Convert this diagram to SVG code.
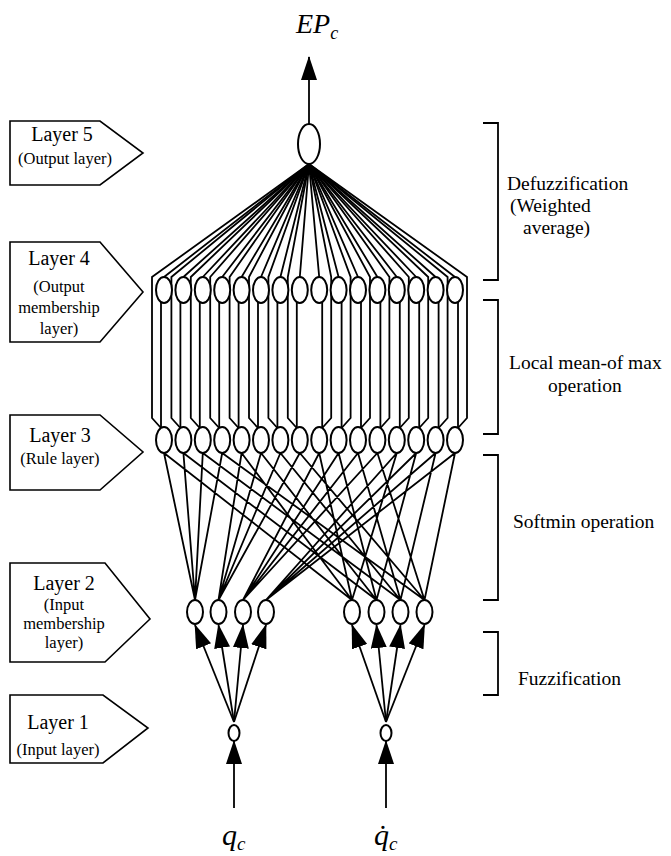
<svg xmlns="http://www.w3.org/2000/svg" width="671" height="856" viewBox="0 0 671 856">
<style>
.n{fill:#fff;stroke:#000;stroke-width:2}
.c{fill:none;stroke:#000;stroke-width:1.8;stroke-linejoin:miter}
.box{fill:#fff;stroke:#000;stroke-width:1.6}
.br{fill:none;stroke:#000;stroke-width:1.8}
text{font-family:"Liberation Serif","Times New Roman",serif;fill:#000}
.t1{font-size:20px;text-anchor:middle}
.t2{font-size:16.5px;text-anchor:middle}
.tr{font-size:19.5px}
.m{font-style:italic}
</style>
<defs>
<marker id="ah" viewBox="0 0 24 16" markerWidth="24" markerHeight="16" markerUnits="userSpaceOnUse" refX="23" refY="8" orient="auto">
<path d="M0,0 L24,8 L0,16 z" fill="#000"/>
</marker>
</defs>

<g id="connectors">
<!-- layer5 to layer4 node tops -->
<path class="c" d="M309,164 L164,277 M309,164 L183.4,277 M309,164 L202.8,277 M309,164 L222.2,277 M309,164 L241.6,277 M309,164 L261,277 M309,164 L280.4,277 M309,164 L299.8,277 M309,164 L319.2,277 M309,164 L338.6,277 M309,164 L358,277 M309,164 L377.4,277 M309,164 L396.8,277 M309,164 L416.2,277 M309,164 L435.6,277 M309,164 L455,277"/>
<!-- bypass lines layer5 to layer3 -->
<path class="c" d="M309,164 L152,277 L152,418 L161,428 M309,164 L171.4,277 L171.4,418 L180.4,428 M309,164 L190.8,277 L190.8,418 L199.8,428 M309,164 L210.2,277 L210.2,418 L219.2,428 M309,164 L229.6,277 L229.6,418 L238.6,428 M309,164 L249,277 L249,418 L258,428 M309,164 L268.4,277 L268.4,418 L277.4,428 M309,164 L287.8,277 L287.8,418 L296.8,428 M309,164 L331.2,277 L331.2,418 L322.2,428 M309,164 L350.6,277 L350.6,418 L341.6,428 M309,164 L370,277 L370,418 L361,428 M309,164 L389.4,277 L389.4,418 L380.4,428 M309,164 L408.8,277 L408.8,418 L399.8,428 M309,164 L428.2,277 L428.2,418 L419.2,428 M309,164 L447.6,277 L447.6,418 L438.6,428 M309,164 L467,277 L467,418 L458,428"/>
<!-- layer4 to layer3 -->
<path class="c" d="M161,302 V428 M180.4,302 V428 M199.8,302 V428 M219.2,302 V428 M238.6,302 V428 M258,302 V428 M277.4,302 V428 M296.8,302 V428 M322.2,302 V428 M341.6,302 V428 M361,302 V428 M380.4,302 V428 M399.8,302 V428 M419.2,302 V428 M438.6,302 V428 M458,302 V428"/>
<!-- layer3 to layer2 -->
<path class="c" d="M164,453 L195,600 M164,453 L352,600 M183.4,453 L195,600 M183.4,453 L376.5,600 M202.8,453 L195,600 M202.8,453 L400.5,600 M222.2,453 L195,600 M222.2,453 L424.5,600 M241.6,453 L218.5,600 M241.6,453 L352,600 M261,453 L218.5,600 M261,453 L376.5,600 M280.4,453 L218.5,600 M280.4,453 L400.5,600 M299.8,453 L218.5,600 M299.8,453 L424.5,600 M319.2,453 L243,600 M319.2,453 L352,600 M338.6,453 L243,600 M338.6,453 L376.5,600 M358,453 L243,600 M358,453 L400.5,600 M377.4,453 L243,600 M377.4,453 L424.5,600 M396.8,453 L266,600 M396.8,453 L352,600 M416.2,453 L266,600 M416.2,453 L376.5,600 M435.6,453 L266,600 M435.6,453 L400.5,600 M455,453 L266,600 M455,453 L424.5,600"/>
<!-- layer1 to layer2 arrows -->
<line class="c" x1="234" y1="722" x2="195" y2="625" marker-end="url(#ah)"/>
<line class="c" x1="234" y1="722" x2="218.5" y2="625" marker-end="url(#ah)"/>
<line class="c" x1="234" y1="722" x2="243" y2="625" marker-end="url(#ah)"/>
<line class="c" x1="234" y1="722" x2="266" y2="625" marker-end="url(#ah)"/>
<line class="c" x1="386" y1="722" x2="352" y2="625" marker-end="url(#ah)"/>
<line class="c" x1="386" y1="722" x2="376.5" y2="625" marker-end="url(#ah)"/>
<line class="c" x1="386" y1="722" x2="400.5" y2="625" marker-end="url(#ah)"/>
<line class="c" x1="386" y1="722" x2="424.5" y2="625" marker-end="url(#ah)"/>
<!-- inputs -->
<line class="c" x1="234" y1="808" x2="234" y2="741" marker-end="url(#ah)"/>
<line class="c" x1="386" y1="808" x2="386" y2="741" marker-end="url(#ah)"/>
<!-- output -->
<line class="c" x1="309" y1="124" x2="309" y2="57" marker-end="url(#ah)"/>
</g>

<g id="layer5">
<ellipse class="n" cx="309" cy="144" rx="11" ry="20"/>
</g>
<g id="layer4">
<ellipse class="n" cx="164" cy="290" rx="8" ry="13"/>
<ellipse class="n" cx="183.4" cy="290" rx="8" ry="13"/>
<ellipse class="n" cx="202.8" cy="290" rx="8" ry="13"/>
<ellipse class="n" cx="222.2" cy="290" rx="8" ry="13"/>
<ellipse class="n" cx="241.6" cy="290" rx="8" ry="13"/>
<ellipse class="n" cx="261" cy="290" rx="8" ry="13"/>
<ellipse class="n" cx="280.4" cy="290" rx="8" ry="13"/>
<ellipse class="n" cx="299.8" cy="290" rx="8" ry="13"/>
<ellipse class="n" cx="319.2" cy="290" rx="8" ry="13"/>
<ellipse class="n" cx="338.6" cy="290" rx="8" ry="13"/>
<ellipse class="n" cx="358" cy="290" rx="8" ry="13"/>
<ellipse class="n" cx="377.4" cy="290" rx="8" ry="13"/>
<ellipse class="n" cx="396.8" cy="290" rx="8" ry="13"/>
<ellipse class="n" cx="416.2" cy="290" rx="8" ry="13"/>
<ellipse class="n" cx="435.6" cy="290" rx="8" ry="13"/>
<ellipse class="n" cx="455" cy="290" rx="8" ry="13"/>
</g>
<g id="layer3">
<ellipse class="n" cx="164" cy="440" rx="8" ry="13"/>
<ellipse class="n" cx="183.4" cy="440" rx="8" ry="13"/>
<ellipse class="n" cx="202.8" cy="440" rx="8" ry="13"/>
<ellipse class="n" cx="222.2" cy="440" rx="8" ry="13"/>
<ellipse class="n" cx="241.6" cy="440" rx="8" ry="13"/>
<ellipse class="n" cx="261" cy="440" rx="8" ry="13"/>
<ellipse class="n" cx="280.4" cy="440" rx="8" ry="13"/>
<ellipse class="n" cx="299.8" cy="440" rx="8" ry="13"/>
<ellipse class="n" cx="319.2" cy="440" rx="8" ry="13"/>
<ellipse class="n" cx="338.6" cy="440" rx="8" ry="13"/>
<ellipse class="n" cx="358" cy="440" rx="8" ry="13"/>
<ellipse class="n" cx="377.4" cy="440" rx="8" ry="13"/>
<ellipse class="n" cx="396.8" cy="440" rx="8" ry="13"/>
<ellipse class="n" cx="416.2" cy="440" rx="8" ry="13"/>
<ellipse class="n" cx="435.6" cy="440" rx="8" ry="13"/>
<ellipse class="n" cx="455" cy="440" rx="8" ry="13"/>
</g>
<g id="layer2">
<ellipse class="n" cx="195" cy="612" rx="8" ry="12"/>
<ellipse class="n" cx="218.5" cy="612" rx="8" ry="12"/>
<ellipse class="n" cx="243" cy="612" rx="8" ry="12"/>
<ellipse class="n" cx="266" cy="612" rx="8" ry="12"/>
<ellipse class="n" cx="352" cy="612" rx="8" ry="12"/>
<ellipse class="n" cx="376.5" cy="612" rx="8" ry="12"/>
<ellipse class="n" cx="400.5" cy="612" rx="8" ry="12"/>
<ellipse class="n" cx="424.5" cy="612" rx="8" ry="12"/>
</g>
<g id="layer1">
<ellipse class="n" cx="234" cy="733" rx="5.5" ry="8"/>
<ellipse class="n" cx="386" cy="733" rx="5.5" ry="8"/>
</g>

<g id="output-label"><text x="296" y="33" class="m" font-size="28">EP<tspan font-size="18" dy="6">c</tspan></text></g>
<g id="input-q"><text x="222" y="845" class="m" font-size="30">q<tspan font-size="19" dy="5">c</tspan></text></g>
<g id="input-qdot"><text x="374" y="845" class="m" font-size="30">q̇<tspan font-size="19" dy="5">c</tspan></text></g>

<g id="label-layer5">
<polygon class="box" points="10,121 100,121 143,153 100,185 10,185"/>
<text class="t1" x="62" y="141">Layer 5</text>
<text class="t2" x="65" y="164">(Output layer)</text>
</g>
<g id="label-layer4">
<polygon class="box" points="10,242 100,242 143,292 100,342 10,342"/>
<text class="t1" x="59" y="265">Layer 4</text>
<text class="t2" x="59" y="292">(Output</text>
<text class="t2" x="59" y="313">membership</text>
<text class="t2" x="59" y="334">layer)</text>
</g>
<g id="label-layer3">
<polygon class="box" points="10,415 100,415 143,452 100,490 10,490"/>
<text class="t1" x="60" y="442">Layer 3</text>
<text class="t2" x="60" y="464">(Rule layer)</text>
</g>
<g id="label-layer2">
<polygon class="box" points="10,563 105,563 150,619 105,662 10,662"/>
<text class="t1" x="64" y="590">Layer 2</text>
<text class="t2" x="64" y="610">(Input</text>
<text class="t2" x="64" y="629">membership</text>
<text class="t2" x="64" y="648">layer)</text>
</g>
<g id="label-layer1">
<polygon class="box" points="10,695 103,695 148,728 103,763 10,763"/>
<text class="t1" x="58" y="729">Layer 1</text>
<text class="t2" x="58" y="755">(Input layer)</text>
</g>

<g id="bracket-defuzz">
<path class="br" d="M483,123 H498 V280 H483"/>
<text class="tr" x="507" y="190">Defuzzification</text>
<text class="tr" x="510" y="212">(Weighted</text>
<text class="tr" x="523" y="234">average)</text>
</g>
<g id="bracket-local">
<path class="br" d="M483,300 H498 V434 H483"/>
<text class="tr" x="509" y="369">Local mean-of max</text>
<text class="tr" x="548" y="392">operation</text>
</g>
<g id="bracket-softmin">
<path class="br" d="M483,455 H498 V600 H483"/>
<text class="tr" x="513" y="528">Softmin operation</text>
</g>
<g id="bracket-fuzz">
<path class="br" d="M483,632 H498 V695 H483"/>
<text class="tr" x="518" y="685">Fuzzification</text>
</g>
</svg>
